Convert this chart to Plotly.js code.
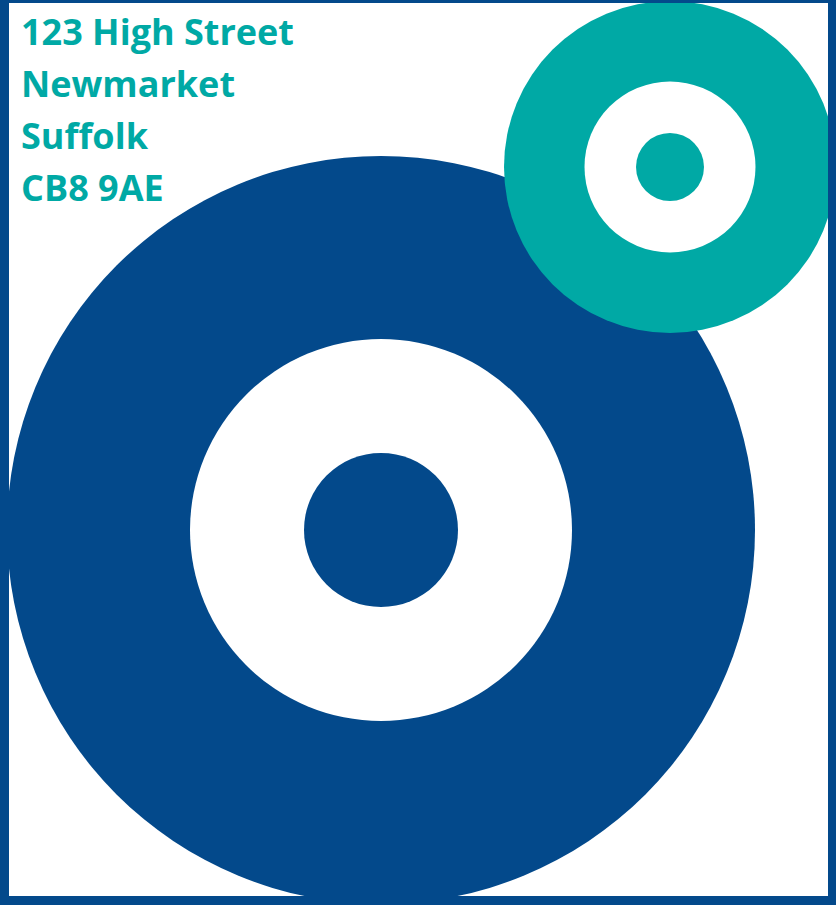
<!DOCTYPE html>
<html>
<head>
<meta charset="utf-8">
<script src="https://cdn.plot.ly/plotly-3.0.1.min.js"></script>
<style>html,body{margin:0;padding:0;background:#fff;}#chart{width:836px;height:905px;}</style>
</head>
<body>
<div id="chart"></div>
<script>
// Text lines of the address block
const addressLines = ["123 High Street", "Newmarket", "Suffolk", "CB8 9AE"];
// Concentric ring radii (outer, middle, inner) for each target
const blueRadii = [374, 191, 77];
const tealRadii = [166, 85.5, 34];
const blueCenter = [381, 530];
const tealCenter = [670, 167];

const BLUE = "#03498B";
const TEAL = "#00A9A5";
const WHITE = "#ffffff";

function ring(center, radii, colors) {
  return radii.map((r, i) => ({
    type: "circle", xref: "x", yref: "y",
    x0: center[0] - r, x1: center[0] + r,
    y0: center[1] - r, y1: center[1] + r,
    fillcolor: colors[i], line: {width: 0}, layer: "above"
  }));
}

const shapes = []
  .concat(ring(blueCenter, blueRadii, [BLUE, WHITE, BLUE]))
  .concat(ring(tealCenter, tealRadii, [TEAL, WHITE, TEAL]));

// frame
const frame = [[0, 0, 9, 905], [0, 0, 836, 3], [828, 0, 836, 905], [0, 896, 836, 905]];
frame.forEach(f => shapes.push({
  type: "rect", xref: "x", yref: "y", x0: f[0], y0: f[1], x1: f[2], y1: f[3],
  fillcolor: BLUE, line: {width: 0}, layer: "above"
}));

const lineY = [31.7, 83.6, 135.5, 187.4];
const annotations = addressLines.map((t, i) => ({
  text: "<b>" + t + "</b>", x: 19, y: lineY[i], xref: "x", yref: "y",
  xanchor: "left", yanchor: "middle", showarrow: false,
  font: {family: "Open Sans", size: 36, color: TEAL}
}));

Plotly.newPlot("chart", [{x: [], y: [], type: "scatter", hoverinfo: "skip"}], {
  width: 836, height: 905,
  margin: {l: 0, r: 0, t: 0, b: 0},
  paper_bgcolor: WHITE, plot_bgcolor: WHITE,
  showlegend: false,
  xaxis: {range: [0, 836], visible: false, fixedrange: true},
  yaxis: {range: [905, 0], visible: false, fixedrange: true},
  shapes: shapes, annotations: annotations
}, {displayModeBar: false, staticPlot: true});
</script>
</body>
</html>
